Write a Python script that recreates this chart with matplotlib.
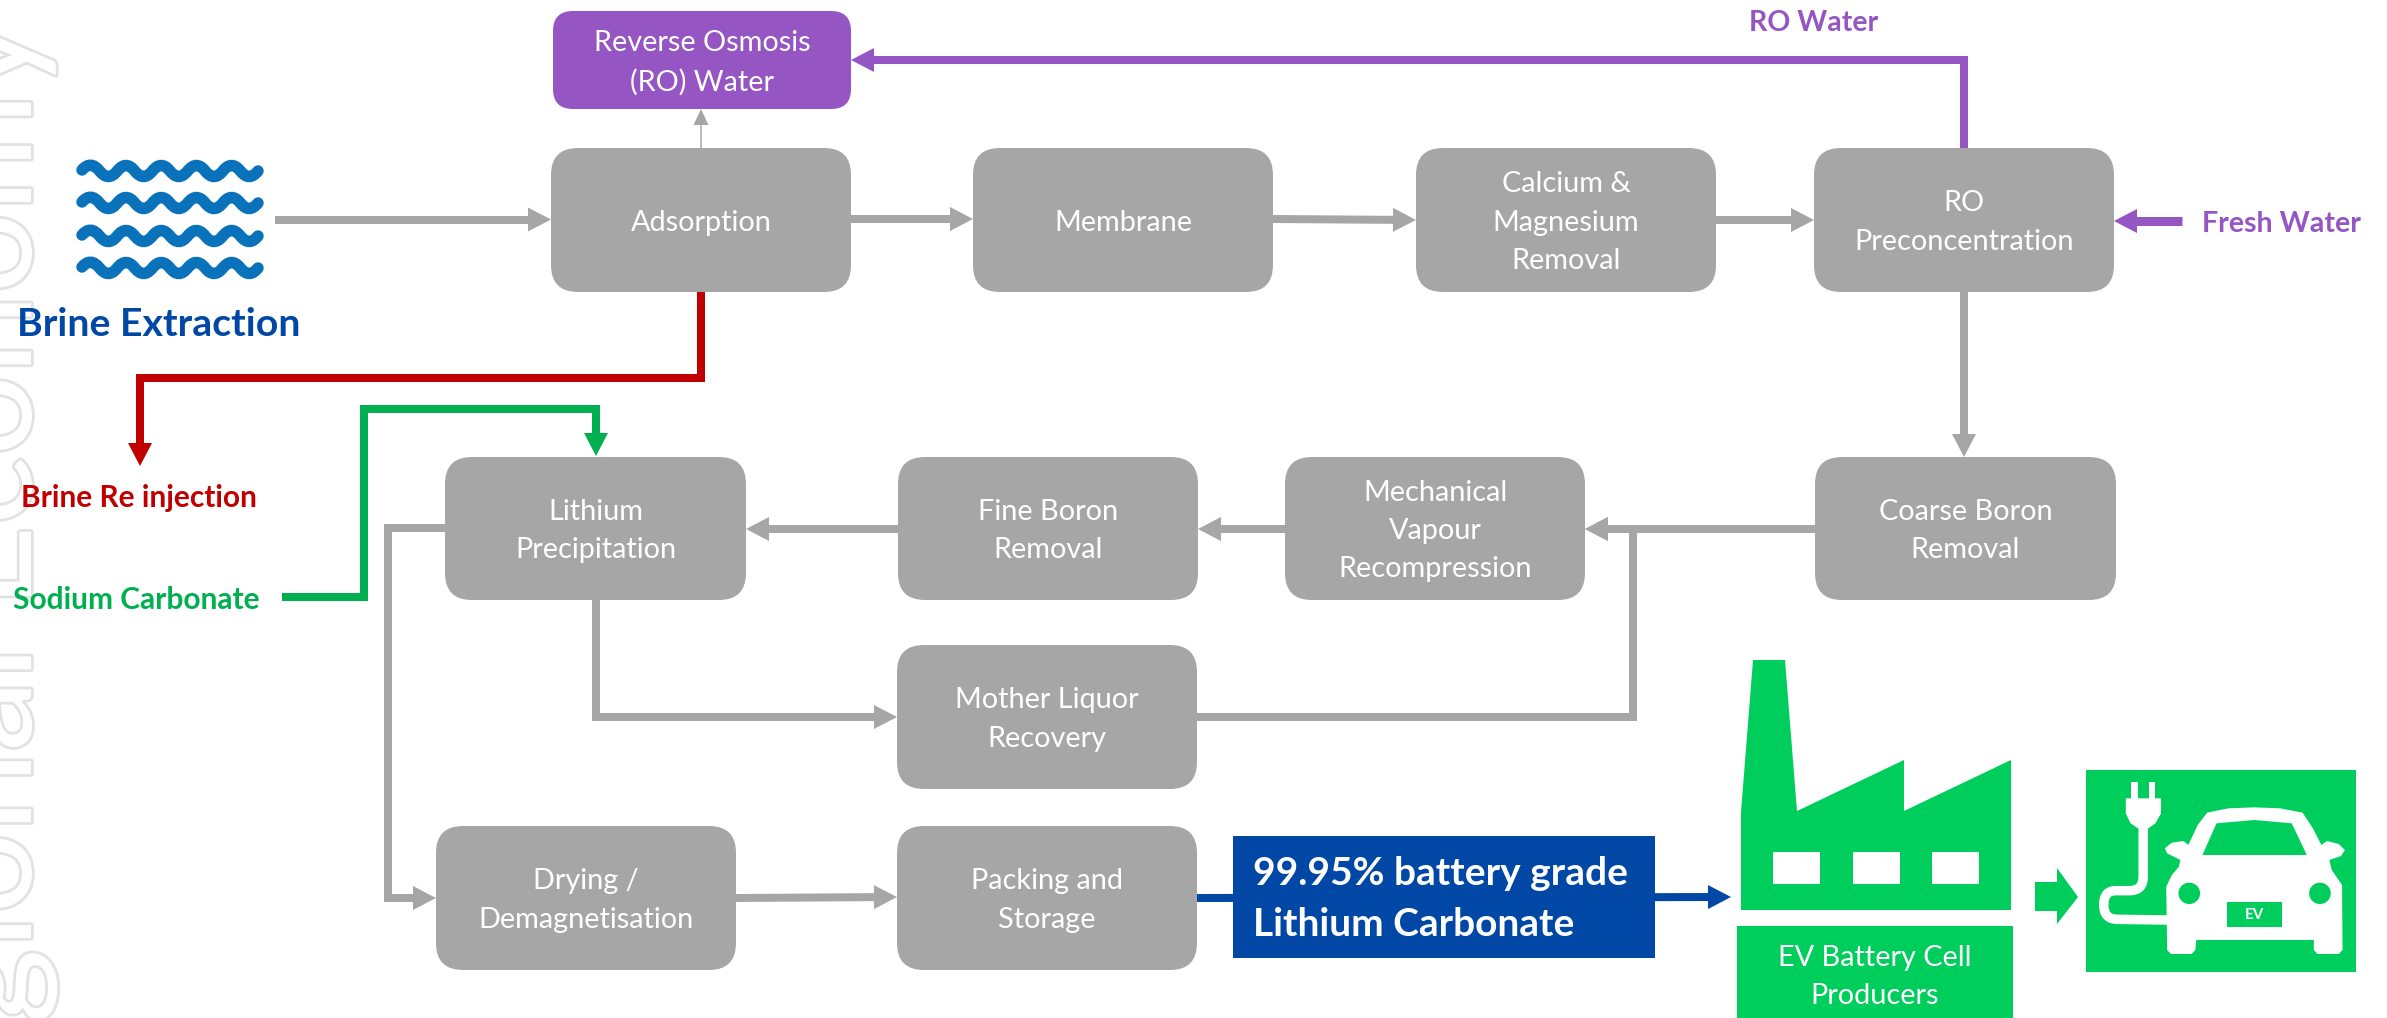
import matplotlib
matplotlib.use("Agg")
import matplotlib.pyplot as plt
import matplotlib.patheffects as pe
from matplotlib.patches import FancyBboxPatch, Polygon, Rectangle, Ellipse, PathPatch
from matplotlib.path import Path

plt.rcParams['font.family'] = ['Lato', 'DejaVu Sans']

GREY = '#A6A6A6'
PURPLE = '#9556C4'
RED = '#C00000'
GREEN = '#00B050'
EVGREEN = '#00CE5C'
BLUE = '#0047A6'
WAVE = '#0A72BA'

# process step names
box_labels = ['Adsorption', 'Membrane', 'Calcium &\nMagnesium\nRemoval', 'RO\nPreconcentration',
              'Coarse Boron\nRemoval', 'Mechanical\nVapour\nRecompression', 'Fine Boron\nRemoval',
              'Lithium\nPrecipitation', 'Mother Liquor\nRecovery', 'Drying /\nDemagnetisation',
              'Packing and\nStorage']
# left, top, right, bottom in pixels
box_rects = [(551, 148, 851, 292), (973, 148, 1273, 292), (1416, 148, 1716, 292), (1814, 148, 2114, 292),
             (1815, 457, 2116, 600), (1285, 457, 1585, 600), (898, 457, 1198, 600),
             (445, 457, 746, 600), (897, 645, 1197, 789), (436, 826, 736, 970),
             (897, 826, 1197, 970)]

W, H = 2387, 1018
fig = plt.figure(figsize=(W / 100, H / 100), dpi=100)
ax = fig.add_axes([0, 0, 1, 1])
ax.set_xlim(0, W)
ax.set_ylim(H, 0)
ax.axis('off')

def px(v):
  return v * 0.72

def rbox(l, t, r, b, color, rad=27, z=3):
  ax.add_patch(FancyBboxPatch((l, t), r - l, b - t, boxstyle="round,pad=0,rounding_size=%d" % rad,
                              fc=color, ec='none', zorder=z))

def arrow(pts, color, lw=8, head=23, hw=24):
  # polyline with a triangle head, last point is the tip
  (x0, y0), (x1, y1) = pts[-2], pts[-1]
  d = ((x1 - x0) ** 2 + (y1 - y0) ** 2) ** 0.5
  ux, uy = (x1 - x0) / d, (y1 - y0) / d
  bx, by = x1 - ux * head, y1 - uy * head
  line = pts[:-1] + [(bx + ux, by + uy)]
  ax.plot([p[0] for p in line], [p[1] for p in line], color=color, lw=px(lw),
          solid_capstyle='butt', solid_joinstyle='miter', zorder=2)
  ax.add_patch(Polygon([(x1, y1), (bx - uy * hw / 2, by + ux * hw / 2), (bx + uy * hw / 2, by - ux * hw / 2)],
                       fc=color, ec='none', zorder=2))

# watermark at the far left, cut off by the page edge
ax.text(31, 18, 'Regional Economy', rotation=90, rotation_mode='anchor', ha='right', va='baseline',
        fontsize=104, color='white', zorder=1, clip_on=True,
        path_effects=[pe.Stroke(linewidth=px(5.5), foreground='#E2E2E2'), pe.Normal()])

# waves
for yc in [171, 203, 236, 268]:
  verts = [(82, yc - 1)]
  codes = [Path.MOVETO]
  x = 82
  step = 17.6
  sign = -1
  for i in range(10):
    verts += [(x + step / 2, yc + sign * 11), (x + step, yc)]
    codes += [Path.CURVE3, Path.CURVE3]
    x += step
    sign = -sign
  ax.add_patch(PathPatch(Path(verts, codes), fc='none', ec=WAVE, lw=px(11.5), capstyle='round', zorder=3))

# boxes
for (l, t, r, b), label in zip(box_rects, box_labels):
  rbox(l, t, r, b, GREY)
  ax.text((l + r) / 2, (t + b) / 2 + 2.5, label, color='white', fontsize=20.8, ha='center', va='center',
          linespacing=1.58, zorder=4)

rbox(553, 11, 851, 109, PURPLE, rad=20)
ax.text(702, 63, 'Reverse Osmosis\n(RO) Water', color='white', fontsize=20.8, ha='center', va='center',
        linespacing=1.58, zorder=4)

# grey flows
arrow([(275, 219.5), (551, 219.5)], GREY)
arrow([(851, 219), (973, 219)], GREY)
arrow([(1273, 219), (1416, 220)], GREY)
arrow([(1716, 220), (1814, 220)], GREY)
arrow([(1964, 292), (1964, 457)], GREY)
arrow([(1815, 529), (1585, 529)], GREY)
arrow([(1285, 529), (1198, 529)], GREY)
arrow([(898, 529), (746, 529)], GREY)
arrow([(596, 600), (596, 717), (897, 717)], GREY)
arrow([(1197, 717), (1633, 717), (1633, 529), (1585, 529)], GREY)
arrow([(445, 528), (388, 528), (388, 898), (436, 898)], GREY)
arrow([(736, 898), (897, 897)], GREY)
arrow([(701, 148), (701, 109)], GREY, lw=1.5, head=16, hw=15)

# coloured flows
arrow([(1964, 148), (1964, 60), (851, 60)], PURPLE)
arrow([(2182, 221), (2114, 221)], PURPLE, lw=9)
arrow([(701, 292), (701, 378), (140, 378), (140, 466)], RED)
arrow([(282, 597), (364, 597), (364, 409), (596, 409), (596, 456)], GREEN)
arrow([(1197, 898), (1731, 897)], BLUE)

# blue product box
ax.add_patch(Rectangle((1233, 836), 422, 122, fc=BLUE, ec='none', zorder=3))
ax.text(1253, 899, '99.95% battery grade\nLithium Carbonate', color='white', fontsize=28, fontweight='bold',
        ha='left', va='center', linespacing=1.54, zorder=4)

# side labels
ax.text(159, 325, 'Brine Extraction', color=BLUE, fontsize=28.3, fontweight='bold', ha='center', va='center')
ax.text(139, 498, 'Brine Re injection', color=RED, fontsize=21.5, fontweight='bold', ha='center', va='center')
ax.text(136, 600, 'Sodium Carbonate', color=GREEN, fontsize=21.5, fontweight='bold', ha='center', va='center')
ax.text(1814, 23, 'RO Water', color=PURPLE, fontsize=20.5, fontweight='bold', ha='center', va='center')
ax.text(2281, 224, 'Fresh Water', color=PURPLE, fontsize=20.6, fontweight='bold', ha='center', va='center')

# factory
ax.add_patch(Polygon([(1741, 910), (1741, 812), (1753, 660), (1785, 660), (1797, 811), (1904, 760), (1904, 811),
                      (2011, 760), (2011, 910)], fc=EVGREEN, ec='none', zorder=3))
for wx in [1773, 1853, 1932]:
  ax.add_patch(Rectangle((wx, 852), 47, 32, fc='white', ec='none', zorder=4))
ax.add_patch(Rectangle((1737, 926), 276, 92, fc=EVGREEN, ec='none', zorder=3))
ax.text(1875, 977, 'EV Battery Cell\nProducers', color='white', fontsize=20.8, ha='center', va='center',
        linespacing=1.58, zorder=4)

# arrow to the EV sign
ax.add_patch(Polygon([(2035, 882), (2057, 882), (2057, 868), (2078, 897), (2057, 924), (2057, 911), (2035, 911)],
                     fc=EVGREEN, ec='none', zorder=3))

# EV sign, outlines taken from a crop so converted here
def ev(x, y):
  return (1650 + x / 2.127, 640 + y / 3)

ax.add_patch(Rectangle((2086, 770), 270, 202, fc=EVGREEN, ec='none', zorder=3))
car = [(1100, 930), (1098, 740), (1110, 705), (1125, 680), (1128, 660), (1100, 640), (1095, 625), (1110, 608),
       (1135, 603), (1145, 615), (1165, 555), (1185, 518), (1230, 505), (1285, 502), (1340, 505), (1388, 518),
       (1410, 565), (1428, 615), (1440, 603), (1465, 612), (1478, 630), (1470, 648), (1445, 660), (1450, 690),
       (1472, 735), (1473, 930), (1465, 942), (1420, 942), (1412, 930), (1412, 900), (1162, 900), (1160, 930),
       (1152, 942), (1108, 942)]
ax.add_patch(Polygon([ev(*p) for p in car], fc='white', ec='none', zorder=4))
ax.add_patch(Polygon([ev(*p) for p in [(1175, 645), (1205, 550), (1285, 540), (1365, 550), (1397, 645)]],
                     fc=EVGREEN, ec='none', zorder=5))
for cx in [1147, 1425]:
  ax.add_patch(Ellipse(ev(cx, 760), 46 / 2.127, 64 / 3, fc=EVGREEN, ec='none', zorder=5))
ax.add_patch(Rectangle(ev(1228, 787), 117 / 2.127, 75 / 3, fc=EVGREEN, ec='none', zorder=5))
ax.text(*ev(1286, 826), 'EV', color='white', fontsize=11, fontweight='bold', ha='center', va='center', zorder=6)
# plug
ax.add_patch(Polygon([ev(*p) for p in [(1012, 475), (1087, 475), (1087, 520), (1075, 550), (1058, 567), (1040, 567),
                                       (1022, 550), (1012, 520)]], fc='white', ec='none', zorder=4))
for cx in [1030, 1068]:
  ax.add_patch(Rectangle(ev(cx - 7, 426), 14 / 2.127, 50 / 3, fc='white', ec='none', zorder=4))
cable = [ev(*p) for p in [(1049, 567), (1049, 710), (1049, 752), (1020, 752), (990, 752), (965, 752), (965, 795),
                          (965, 838), (995, 838), (1100, 840)]]
cable_codes = [Path.MOVETO, Path.LINETO, Path.CURVE3, Path.CURVE3, Path.LINETO, Path.CURVE3, Path.CURVE3,
               Path.CURVE3, Path.CURVE3, Path.LINETO]
ax.add_patch(PathPatch(Path(cable, cable_codes), fc='none', ec='white', lw=px(9.5), zorder=4))

fig.savefig('out.png', dpi=100, facecolor='white')
